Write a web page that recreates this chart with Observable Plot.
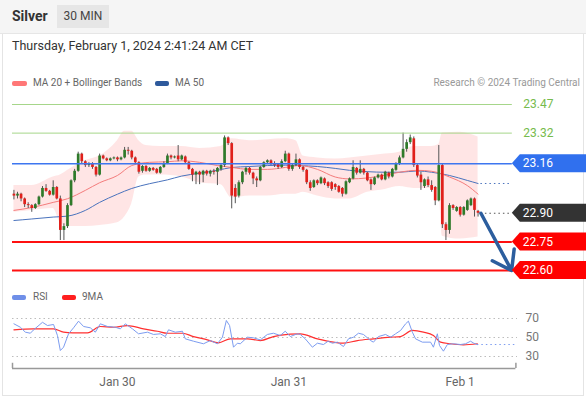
<!DOCTYPE html>
<html><head><meta charset="utf-8">
<script src="https://cdn.jsdelivr.net/npm/d3@7"></script>
<script src="https://cdn.jsdelivr.net/npm/@observablehq/plot@0.6"></script>
<style>
html,body{margin:0;padding:0;}
body{width:586px;height:399px;position:relative;overflow:hidden;background:#fff;font-family:Roboto,"Liberation Sans",Arial,sans-serif;color:#333;}
#hdr{position:absolute;left:0;top:0;width:586px;height:33px;background:#f5f5f5;border-bottom:1px solid #e6e6e6;}
#title{position:absolute;left:12px;top:8px;font-size:14px;font-weight:bold;color:#333;}
#badge{position:absolute;left:57px;top:5px;width:52px;height:23px;background:#e6e6e6;font-size:12px;line-height:23px;text-align:center;color:#444;}
#card{position:absolute;left:2px;top:34px;width:580px;height:361px;border:1px solid #e4e4e4;border-top:none;}
#date{position:absolute;left:12px;top:38px;font-size:12.5px;color:#333;}
.leg{position:absolute;font-size:10px;line-height:12px;color:#666;white-space:nowrap;}
.sw{position:absolute;height:5px;border-radius:2px;}
#main{position:absolute;left:0;top:92px;}
#rsi{position:absolute;left:0;top:305px;}
</style></head>
<body>
<div id="hdr"><div id="title">Silver</div><div id="badge">30 MIN</div></div>
<div id="card"></div>
<div id="date">Thursday, February 1, 2024 2:41:24 AM CET</div>
<div class="sw" style="left:12px;top:81px;width:15px;background:#f77;"></div>
<div class="leg" style="left:33px;top:77px;">MA 20 + Bollinger Bands</div>
<div class="sw" style="left:155px;top:81px;width:14px;background:#2e5a9c;"></div>
<div class="leg" style="left:175px;top:77px;">MA 50</div>
<div class="leg" style="right:6px;top:77px;color:#999;">Research © 2024 Trading Central</div>
<div id="main"></div>
<div class="sw" style="left:12px;top:295px;width:14px;background:#6f8fe8;"></div>
<div class="leg" style="left:33px;top:291px;">RSI</div>
<div class="sw" style="left:62px;top:295px;width:14px;background:#ff1f1f;"></div>
<div class="leg" style="left:82px;top:291px;">9MA</div>
<div id="rsi"></div>
<script>
// ---- candles (30 min), index 0..130 ----
const open = [23.00,22.99,23.00,22.975,22.945,22.94,22.925,22.945,22.985,23.03,
23.015,22.995,23.035,22.975,22.81,22.83,22.94,23.07,23.12,23.21,
23.17,23.15,23.16,23.14,23.10,23.20,23.185,23.175,23.185,23.19,
23.18,23.19,23.23,23.225,23.19,23.165,23.12,23.145,23.12,23.135,
23.13,23.11,23.14,23.16,23.20,23.19,23.20,23.18,23.195,23.165,
23.13,23.10,23.115,23.10,23.12,23.105,23.12,23.115,23.13,23.15,
23.295,23.265,23.03,22.99,23.06,23.115,23.135,23.11,23.08,23.07,
23.14,23.165,23.175,23.16,23.155,23.14,23.17,23.21,23.13,23.15,
23.18,23.14,23.125,23.06,23.035,23.07,23.055,23.08,23.06,23.06,
23.05,23.04,23.03,23.00,23.06,23.08,23.135,23.11,23.13,23.11,
23.075,23.05,23.085,23.10,23.075,23.11,23.09,23.125,23.16,23.19,
23.235,23.27,23.29,23.15,23.10,23.04,23.075,23.045,23.035,22.965,
23.15,22.84,22.81,22.94,22.91,22.93,22.89,22.915,22.94,22.975,
22.91];
const high = [23.02,23.01,23.005,22.98,22.955,22.945,22.95,22.99,23.04,23.05,
23.02,23.07,23.04,22.99,22.845,22.95,23.075,23.13,23.22,23.215,
23.175,23.165,23.165,23.145,23.21,23.205,23.19,23.19,23.195,23.195,
23.195,23.245,23.245,23.23,23.195,23.17,23.15,23.15,23.14,23.14,
23.135,23.145,23.17,23.21,23.205,23.20,23.255,23.205,23.20,23.17,
23.135,23.12,23.12,23.125,23.125,23.125,23.13,23.14,23.155,23.305,
23.30,23.27,23.05,23.07,23.12,23.14,23.14,23.115,23.09,23.145,
23.17,23.18,23.18,23.17,23.16,23.18,23.225,23.215,23.155,23.21,
23.185,23.145,23.13,23.07,23.075,23.075,23.09,23.085,23.065,23.065,
23.055,23.045,23.035,23.07,23.085,23.175,23.14,23.175,23.135,23.115,
23.08,23.09,23.105,23.105,23.12,23.115,23.135,23.165,23.20,23.32,
23.285,23.31,23.30,23.155,23.115,23.08,23.09,23.07,23.04,23.255,
23.155,22.85,22.95,22.945,22.935,22.935,22.935,22.97,22.98,22.98,
22.915];
const low = [22.97,22.975,22.96,22.93,22.925,22.905,22.92,22.94,22.98,23.01,
22.99,22.99,22.97,22.757,22.757,22.82,22.935,23.06,23.115,23.16,
23.14,23.14,23.13,23.09,23.095,23.18,23.17,23.17,23.18,23.17,
23.175,23.185,23.205,23.18,23.155,23.105,23.11,23.115,23.115,23.12,
23.105,23.105,23.135,23.155,23.18,23.185,23.17,23.175,23.16,23.125,
23.065,23.05,23.05,23.06,23.095,23.09,23.10,23.045,23.12,23.14,
23.255,22.923,22.95,22.98,23.05,23.10,23.10,23.05,23.035,23.065,
23.135,23.155,23.15,23.14,23.13,23.135,23.165,23.12,23.12,23.145,
23.13,23.115,23.05,23.015,23.03,23.045,23.05,23.045,23.03,23.015,
23.02,23.005,22.985,22.995,23.055,23.075,23.10,23.105,23.10,23.065,
23.02,23.045,23.08,23.07,23.07,23.08,23.085,23.12,23.15,23.185,
23.22,23.26,23.14,23.085,23.02,23.03,23.035,23.01,22.94,22.96,
22.82,22.757,22.79,22.915,22.905,22.88,22.885,22.91,22.935,22.88,
22.88];
const close = [22.99,23.00,22.975,22.945,22.94,22.925,22.945,22.985,23.03,23.015,
22.995,23.035,22.975,22.81,22.83,22.94,23.07,23.12,23.21,23.17,
23.15,23.16,23.14,23.10,23.20,23.185,23.175,23.185,23.19,23.18,
23.19,23.23,23.225,23.19,23.165,23.115,23.145,23.12,23.135,23.125,
23.11,23.14,23.16,23.20,23.19,23.195,23.18,23.20,23.165,23.13,
23.10,23.115,23.10,23.12,23.105,23.12,23.115,23.135,23.15,23.295,
23.265,22.99,22.985,23.06,23.115,23.135,23.11,23.08,23.07,23.14,
23.165,23.175,23.16,23.15,23.14,23.17,23.21,23.13,23.15,23.18,
23.14,23.125,23.06,23.03,23.07,23.055,23.085,23.055,23.04,23.025,
23.035,23.01,23.00,23.065,23.08,23.14,23.11,23.13,23.11,23.07,
23.05,23.085,23.10,23.075,23.115,23.09,23.13,23.16,23.19,23.235,
23.27,23.295,23.15,23.095,23.06,23.075,23.045,23.02,22.965,23.15,
22.84,22.81,22.94,22.925,22.93,22.89,22.93,22.965,22.975,22.915,
22.90];

// ---- Bollinger bands (MA20 +/- 2sd), sampled ----
const bandIdx = [0,5,11,13,15,20,24,29,31,33,35,37,41,47,52,58,61,66,71,76,79,81,85,90,94,99,104,108,112,117,119,120,125,130];
const bandUp = [23.045,23.045,23.09,23.10,23.124,23.176,23.20,23.28,23.33,23.33,23.28,23.255,23.25,23.25,23.24,23.25,23.29,23.28,23.285,23.29,23.28,23.20,23.19,23.185,23.19,23.20,23.21,23.22,23.25,23.25,23.26,23.32,23.325,23.30];
const bandLo = [22.905,22.915,22.925,22.85,22.83,22.83,22.836,22.85,22.88,22.95,23.09,23.10,23.10,23.09,23.06,23.05,22.98,22.99,22.99,23.0,23.0,23.01,22.99,22.975,22.975,23.01,23.025,23.04,23.03,23.03,23.02,22.78,22.765,22.775];
// ---- moving averages, sampled ----
const maIdx = [0,5,11,15,20,24,29,33,38,43,47,52,57,61,66,71,76,80,85,90,94,99,104,108,113,117,122,127,130];
const ma20Val = [22.915,22.93,22.957,22.976,23.02,23.06,23.098,23.15,23.167,23.17,23.175,23.167,23.15,23.14,23.13,23.13,23.14,23.15,23.13,23.09,23.08,23.085,23.10,23.115,23.125,23.12,23.09,23.045,23.0];
const ma50Val = [22.862,22.87,22.88,22.885,22.915,22.957,23.0,23.03,23.055,23.075,23.095,23.11,23.125,23.14,23.145,23.15,23.152,23.15,23.145,23.135,23.125,23.118,23.115,23.115,23.122,23.115,23.098,23.072,23.056];

// ---- levels ----
const greenLevels = [23.47, 23.32];
const blueLevel = [23.16];
const redLevels = [22.75, 22.60];
const lastPrice = 22.90;
const target = 22.60;

// ---- RSI ----
const rsiIdx = [0,1.8,3.2,4.6,5.5,8.0,9.4,11.1,12.2,13.0,13.9,15.3,16.7,18.1,19.5,21.4,22.8,24.2,26.2,28.4,29.8,31.2,33.2,34.9,37.4,39.1,41.0,42.4,43.3,45.2,47.2,48.0,50.3,53.1,55.0,57.0,58.4,59.5,60.4,61.5,62.6,63.4,65.4,67.1,69.0,71.0,72.7,74.6,76.0,77.4,79.4,80.2,81.6,83.6,85.0,86.7,88.0,89.2,90.6,92.3,93.7,95.1,96.5,97.9,99.9,100.7,102.1,104.1,105.5,106.9,108.3,109.7,110.5,111.6,112.5,114.4,116.7,117.5,118.6,119.2,120.3,121.4,123.1,125.1,126.5,127.9,128.8,129.8];
const rsiVal = [64.4,60.8,55.6,54.5,58,66,62.6,63.7,52,36.3,39.8,53.9,60.2,67.2,61.6,60.2,55.6,64.4,61.6,60.8,59.1,64.4,59.1,53.9,55.6,53.2,53.9,51,58.1,55.6,56.6,48.6,46.1,43.4,46.8,43.4,50.3,67.9,62.6,39.8,44,43.4,50.3,49.7,47.5,53.2,54.5,52.1,56.6,51,53.9,53.2,48.6,39.8,44,42.6,46.1,44,45.1,40.5,48.6,50.3,54.5,53.2,46.8,45.1,51,53.2,50.3,53.9,57.4,64.4,67.2,55.6,48.6,45.1,45.1,39.8,53.9,41.6,35.6,42.6,43.4,42.6,43.4,46.1,44,42.6];
const ma9Idx = [0,5.5,11.1,13.9,16.4,20.6,24.2,27.9,31.8,36.3,40.2,43,47.2,50.3,54.2,57.3,60.6,65.4,69,72.7,77.4,80.2,85,89.5,92.3,96.2,100.7,105.5,108.3,111.6,114.7,117.5,119.5,122.3,125.9,129.8];
const ma9Val = [58.1,59.1,59.1,55.6,54.9,54.9,61.6,60.8,62.6,59.1,56.6,54.5,54.5,51,47.5,44.4,48.6,48.6,46.8,51,53.5,53.9,48.6,45.1,44,46.8,48.6,50.3,51,57.4,55.6,52.1,45.1,43.4,42.3,43.4];
const rsiLevels = [70, 50, 30];

// ---- x axis ----
const tickIdx = [29, 77, 125];
const tickLabels = ["Jan 30", "Jan 31", "Feb 1"];

// ---- build tables ----
const candles = close.map((c, i) => ({i, o: open[i], h: high[i], l: low[i], c}));
const ups = candles.filter(d => d.c >= d.o);
const downs = candles.filter(d => d.c < d.o);
const band = bandIdx.map((i, k) => ({i, up: bandUp[k], lo: bandLo[k]}));
const ma20 = maIdx.map((i, k) => ({i, v: ma20Val[k]}));
const ma50 = maIdx.map((i, k) => ({i, v: ma50Val[k]}));
const rsi = rsiIdx.map((i, k) => ({i, v: rsiVal[k]}));
const ma9 = ma9Idx.map((i, k) => ({i, v: ma9Val[k]}));
const lastI = candles.length - 1;

const XD = [-0.4, 140.6];
const LINE_END = 139.6;
const font = "Roboto, 'Liberation Sans', Arial, sans-serif";

const main = Plot.plot({
  width: 586, height: 190,
  marginLeft: 12, marginRight: 70.6, marginTop: 12, marginBottom: 12,
  x: {domain: XD, axis: null},
  y: {domain: [22.60, 23.47], axis: null},
  style: {background: "transparent", fontFamily: font, overflow: "visible"},
  marks: [
    Plot.areaY(band, {x: "i", y1: "lo", y2: "up", fill: "#ff2a2a", fillOpacity: 0.12, curve: "monotone-x"}),
    Plot.line(ma50, {x: "i", y: "v", stroke: "#4a73bd", strokeWidth: 1, curve: "monotone-x"}),
    Plot.line(ma20, {x: "i", y: "v", stroke: "#f47c7c", strokeWidth: 1, curve: "monotone-x"}),
    Plot.ruleX(candles, {x: "i", y1: "l", y2: "h", stroke: "#555", strokeWidth: 1}),
    Plot.ruleX(ups, {x: "i", y1: "o", y2: "c", stroke: "#2f7a2a", strokeWidth: 2.7}),
    Plot.ruleX(downs, {x: "i", y1: "o", y2: "c", stroke: "#e0201b", strokeWidth: 2.7}),
    Plot.ruleY(greenLevels, {x1: XD[0], x2: LINE_END, stroke: "#a6d68a", strokeWidth: 1}),
    Plot.ruleY(blueLevel, {x1: XD[0], x2: LINE_END, stroke: "#3d76f0", strokeWidth: 1.5}),
    Plot.ruleY(redLevels, {x1: XD[0], x2: LINE_END, stroke: "#ff1010", strokeWidth: 2}),
    Plot.ruleY([lastPrice], {x1: lastI + 0.8, x2: LINE_END, stroke: "#555", strokeDasharray: "1.5,3"}),
    Plot.ruleY([ma50Val[ma50Val.length - 1]], {x1: lastI + 0.8, x2: LINE_END, stroke: "#4a73bd", strokeDasharray: "1.5,3"}),
    Plot.text(greenLevels, {x: LINE_END, y: d => d, text: d => d.toFixed(2), dx: 11, textAnchor: "start", fill: "#76bb4c", fontSize: 12}),
    Plot.arrow([{x1: lastI + 0.8, y1: lastPrice, x2: LINE_END - 0.2, y2: target}],
      {x1: "x1", y1: "y1", x2: "x2", y2: "y2", stroke: "#2c5e9e", strokeWidth: 3.5, headLength: 10, headAngle: 70})
  ]
});
document.getElementById("main").appendChild(main);

// price tags on the right, placed through the plot's y scale
const ys = main.scale("y");
const xs = main.scale("x");
const tagX = xs.apply(LINE_END);
const tags = [
  {v: blueLevel[0], color: "#3070ee"},
  {v: lastPrice, color: "#333333"},
  {v: redLevels[0], color: "#ff0000"},
  {v: redLevels[1], color: "#ff0000"}
];
const g = d3.select(main).append("g");
tags.forEach(t => {
  const y = ys.apply(t.v);
  g.append("path")
    .attr("d", `M${tagX},${y} L${tagX + 8},${y - 9} L586,${y - 9} L586,${y + 9} L${tagX + 8},${y + 9} Z`)
    .attr("fill", t.color);
  g.append("text").attr("x", tagX + 11).attr("y", y).attr("dy", "0.35em")
    .attr("text-anchor", "start")
    .attr("fill", "#fff").attr("font-size", 12).attr("font-family", font)
    .text(t.v.toFixed(2));
});

const RSI_FLOOR = 17.37;
const RSI_END = 141.05;
const rsiPlot = Plot.plot({
  width: 586, height: 90,
  marginLeft: 12, marginRight: 70.6, marginTop: 13, marginBottom: 27,
  x: {domain: XD, label: null},
  y: {domain: [RSI_FLOOR, 70], axis: null},
  style: {background: "transparent", fontFamily: font, overflow: "visible", color: "#666"},
  marks: [
    Plot.ruleY(rsiLevels, {x1: XD[0], x2: RSI_END, stroke: "#bdbdbd", strokeDasharray: "1.5,3"}),
    Plot.text(rsiLevels, {x: RSI_END, y: d => d, text: d => String(d), dx: 8, textAnchor: "start", fill: "#777", fontSize: 12}),
    Plot.line(ma9, {x: "i", y: "v", stroke: "#ff3030", strokeWidth: 1.2, curve: "monotone-x"}),
    Plot.line(rsi, {x: "i", y: "v", stroke: "#7c9cf0", strokeWidth: 1}),
    Plot.ruleY([rsiVal[rsiVal.length - 1]], {x1: rsiIdx[rsiIdx.length - 1], x2: RSI_END, stroke: "#7c9cf0", strokeDasharray: "1.5,3"}),
    Plot.ruleY([RSI_FLOOR], {x1: XD[0], x2: XD[1], stroke: "#999", strokeWidth: 1.5}),
    Plot.ruleX([XD[0], XD[1]], {y1: RSI_FLOOR, y2: RSI_FLOOR + 5.5, stroke: "#999", strokeWidth: 1.5}),
    Plot.axisX({ticks: tickIdx, tickFormat: d => tickLabels[tickIdx.indexOf(d)], tickSize: 0, tickPadding: 9, fontSize: 12, color: "#666", label: null})
  ]
});
document.getElementById("rsi").appendChild(rsiPlot);
</script>
</body></html>
